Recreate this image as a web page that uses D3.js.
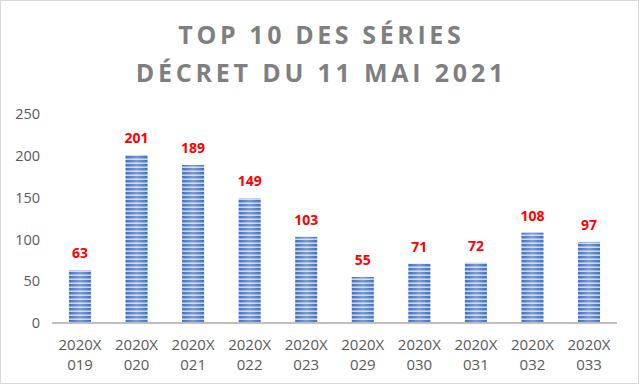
<!DOCTYPE html>
<html><head><meta charset="utf-8">
<script src="https://cdn.jsdelivr.net/npm/d3@7"></script>
<style>body{margin:0;background:#fff}svg{display:block}</style>
</head><body><svg id="c" width="639" height="384"></svg>
<script>
const categories = ["2020X 019","2020X 020","2020X 021","2020X 022","2020X 023","2020X 029","2020X 030","2020X 031","2020X 032","2020X 033"];
const values = [63,201,189,149,103,55,71,72,108,97];
const yTicks = [0,50,100,150,200,250];
const titleLines = ["TOP 10 DES SÉRIES","DÉCRET DU 11 MAI 2021"];

const svg = d3.select("#c");
const W=639,H=384;
const m={left:52,right:22,top:114,bottom:61};
svg.append("rect").attr("x",0.5).attr("y",0.5).attr("width",W-1).attr("height",H-1).attr("fill","#fff").attr("stroke","#d9d9d9");

const defs=svg.append("defs");
const pat=defs.append("pattern").attr("id","stripes").attr("patternUnits","userSpaceOnUse").attr("width",4).attr("height",4);
pat.append("rect").attr("width",4).attr("height",4).attr("fill","#4170c4");
pat.append("rect").attr("y",2).attr("width",4).attr("height",1).attr("fill","#8aa8dc");
pat.append("rect").attr("y",3).attr("width",4).attr("height",1).attr("fill","#c2d3ef");
const g1=defs.append("linearGradient").attr("id","shine").attr("x1","0").attr("x2","1").attr("y1","0").attr("y2","0");
g1.append("stop").attr("offset","0").attr("stop-color","#fff").attr("stop-opacity",0.0);
g1.append("stop").attr("offset","0.5").attr("stop-color","#fff").attr("stop-opacity",0.3);
g1.append("stop").attr("offset","1").attr("stop-color","#fff").attr("stop-opacity",0.0);

const x=d3.scaleBand().domain(categories).range([m.left,W-m.right]).paddingInner(0.61).paddingOuter(0.3);
const y=d3.scaleLinear().domain([0,250]).range([H-m.bottom,m.top]);

const ls=[3.6,3.8];
const tg=svg.append("g").attr("font-family","'Open Sans', 'DejaVu Sans', sans-serif").attr("font-weight","bold").attr("fill","#7f7f7f").attr("font-size",25).attr("text-anchor","middle");
tg.selectAll("text").data(titleLines).join("text").attr("letter-spacing",(d,i)=>ls[i]+"px")
  .attr("x",(d,i)=>W/2+ls[i]/2).attr("y",(d,i)=>44+i*38).text(d=>d);

const ya=svg.append("g").attr("transform",`translate(${m.left},0)`).call(d3.axisLeft(y).tickValues(yTicks).tickSize(0).tickPadding(12));
ya.select(".domain").remove();
ya.selectAll("text").attr("font-family","'Open Sans', sans-serif").attr("font-size",14.5).attr("fill","#595959");

svg.selectAll("rect.bar").data(values).join("rect").attr("class","bar")
 .attr("x",(d,i)=>x(categories[i])).attr("width",x.bandwidth()).attr("y",d=>y(d)).attr("height",d=>y(0)-y(d)).attr("fill","url(#stripes)");
svg.selectAll("rect.shine").data(values).join("rect").attr("class","shine")
 .attr("x",(d,i)=>x(categories[i])).attr("width",x.bandwidth()).attr("y",d=>y(d)).attr("height",d=>y(0)-y(d)).attr("fill","url(#shine)");

svg.append("line").attr("x1",m.left).attr("x2",W-m.right).attr("y1",y(0)).attr("y2",y(0)).attr("stroke","#bfbfbf").attr("stroke-width",2);

svg.selectAll("text.val").data(values).join("text").attr("class","val")
 .attr("x",(d,i)=>x(categories[i])+x.bandwidth()/2).attr("y",d=>y(d)-12)
 .attr("text-anchor","middle").attr("font-family","'Open Sans', sans-serif").attr("font-weight","bold").attr("font-size",14).attr("fill","#ff0000").text(d=>d);

const xl=svg.append("g");
categories.forEach((c,i)=>{
  const parts=c.split(" ");
  const t=xl.append("text").attr("text-anchor","middle").attr("font-family","'Open Sans', sans-serif").attr("font-size",15).attr("fill","#595959");
  parts.forEach((p,j)=>t.append("tspan").attr("x",x(c)+x.bandwidth()/2).attr("y",350+j*20).text(p));
});
</script></body></html>
